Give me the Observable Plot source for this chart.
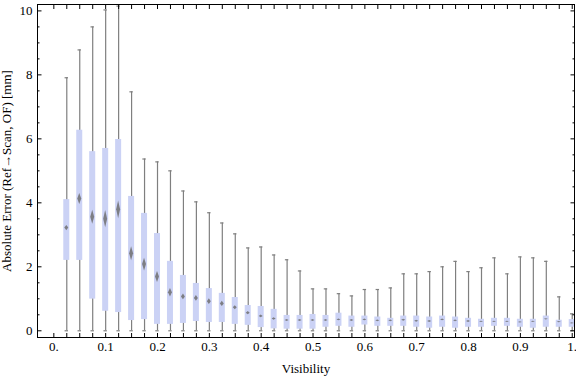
<!DOCTYPE html>
<html><head><meta charset="utf-8">
<script src="https://cdn.jsdelivr.net/npm/d3@7"></script>
<script src="https://cdn.jsdelivr.net/npm/@observablehq/plot@0.6"></script>
<style>body{margin:0;background:#fff} svg{display:block}</style>
</head><body><div id="chart"></div>
<script>
const visibility = [0.025,0.05,0.075,0.1,0.125,0.15,0.175,0.2,0.225,0.25,0.275,0.3,0.325,0.35,0.375,0.4,0.425,0.45,0.475,0.5,0.525,0.55,0.575,0.6,0.625,0.65,0.675,0.7,0.725,0.75,0.775,0.8,0.825,0.85,0.875,0.9,0.925,0.95,0.975,1.0];
const upper = [7.91,8.78,9.50,10.03,10.15,7.47,5.37,5.28,5.00,4.37,4.03,3.69,3.37,3.03,2.59,2.62,2.37,2.22,1.87,1.31,1.31,1.16,1.09,1.29,1.29,1.34,1.78,1.78,1.85,2.00,2.17,1.85,1.97,2.28,1.78,2.31,2.28,2.17,1.06,0.53];
const q3 = [4.10,6.27,5.60,5.70,5.98,4.20,3.67,3.04,2.17,1.73,1.48,1.32,1.17,1.04,0.79,0.76,0.67,0.48,0.48,0.51,0.48,0.55,0.46,0.46,0.43,0.39,0.46,0.46,0.43,0.46,0.43,0.39,0.36,0.39,0.39,0.36,0.36,0.46,0.33,0.35];
const q1 = [2.20,2.20,0.99,0.61,0.57,0.32,0.35,0.20,0.20,0.23,0.29,0.26,0.26,0.20,0.17,0.10,0.06,0.05,0.05,0.05,0.11,0.14,0.11,0.18,0.14,0.14,0.14,0.11,0.08,0.11,0.08,0.11,0.11,0.14,0.14,0.11,0.08,0.11,0.11,0.11];
const lower = [0,0,0,0,0,0,0,0,0,0,0,0,0,0,0,0,0,0,0,0,0,0,0,0,0,0,0,0,0,0,0,0,0,0,0,0,0,0,0,0];
const mean = [3.21,4.12,3.55,3.49,3.78,2.41,2.07,1.68,1.19,1.06,1.01,0.91,0.84,0.72,0.55,0.45,0.37,0.32,0.32,0.32,0.32,0.34,0.32,0.34,0.31,0.31,0.33,0.30,0.29,0.34,0.31,0.29,0.28,0.28,0.28,0.26,0.28,0.36,0.27,0.23];
const meanCI = [0.08,0.17,0.22,0.27,0.28,0.22,0.20,0.17,0.13,0.09,0.09,0.09,0.08,0.06,0.05,0.04,0.04,0.03,0.03,0.03,0.03,0.03,0.03,0.03,0.03,0.03,0.03,0.03,0.03,0.03,0.03,0.03,0.02,0.02,0.02,0.02,0.02,0.02,0.02,0.02];

const xMinorTicks = [0,0.025,0.05,0.075,0.1,0.125,0.15,0.175,0.2,0.225,0.25,0.275,0.3,0.325,0.35,0.375,0.4,0.425,0.45,0.475,0.5,0.525,0.55,0.575,0.6,0.625,0.65,0.675,0.7,0.725,0.75,0.775,0.8,0.825,0.85,0.875,0.9,0.925,0.95,0.975,1.0];
const xTickValues = [0,0.1,0.2,0.3,0.4,0.5,0.6,0.7,0.8,0.9,1.0];
const xTickLabels = ["0.","0.1","0.2","0.3","0.4","0.5","0.6","0.7","0.8","0.9","1."];
const yTickValues = [0,2,4,6,8,10];
const yTickLabels = ["0","2","4","6","8","10"];
const yMinorTicks = [0.5,1,1.5,2.5,3,3.5,4.5,5,5.5,6.5,7,7.5,8.5,9,9.5];

const boxes = visibility.map((v, i) => ({v, lo: lower[i], q1: q1[i], q3: q3[i], hi: upper[i], m: mean[i], ci: meanCI[i]}));
const boxHalf = 0.0058, capHalf = 0.0033, diaHalf = 0.0038;
const diamonds = boxes.flatMap(d => [
  {v: d.v, x: d.v - diaHalf, y1: d.m, y2: d.m},
  {v: d.v, x: d.v, y1: d.m - d.ci, y2: d.m + d.ci},
  {v: d.v, x: d.v + diaHalf, y1: d.m, y2: d.m}
]);
const grey = "#7f7f7f";
const font = "Liberation Serif, Times New Roman, serif";

const chart = Plot.plot({
  width: 576, height: 377,
  marginLeft: 37, marginRight: 2, marginTop: 4, marginBottom: 40,
  style: {fontFamily: font, fontSize: "13px", color: "black", background: "white"},
  x: {domain: [-0.0315, 1.0044]},
  y: {domain: [-0.21, 10.2]},
  marks: [
    Plot.ruleX(boxes, {x: "v", y1: "lo", y2: "hi", stroke: grey, strokeWidth: 1.2}),
    Plot.ruleY(boxes, {y: "hi", x1: d => d.v - capHalf, x2: d => d.v + capHalf, stroke: grey, strokeWidth: 1.2, clip: true}),
    Plot.ruleY(boxes, {y: "lo", x1: d => d.v - capHalf, x2: d => d.v + capHalf, stroke: grey, strokeWidth: 1.2, clip: true}),
    Plot.rect(boxes, {x1: d => d.v - boxHalf, x2: d => d.v + boxHalf, y1: "q1", y2: "q3", fill: "#cbd2f5", clip: true}),
    Plot.areaY(diamonds, {x: "x", y1: "y1", y2: "y2", z: "v", fill: "#707070", fillOpacity: 0.85}),
    // inward ticks
    Plot.axisX(xMinorTicks, {anchor: "bottom", tickSize: -4, fill: "none", label: null}),
    Plot.axisX(xMinorTicks, {anchor: "top", tickSize: -4, fill: "none", label: null}),
    Plot.axisY(yTickValues, {anchor: "left", tickSize: -4.5, fill: "none", label: null}),
    Plot.axisY(yMinorTicks, {anchor: "left", tickSize: -2.5, fill: "none", label: null}),
    Plot.axisY(yTickValues, {anchor: "right", tickSize: -4.5, fill: "none", label: null}),
    Plot.axisY(yMinorTicks, {anchor: "right", tickSize: -2.5, fill: "none", label: null}),
    // labels
    Plot.axisX(xTickValues, {anchor: "bottom", tickSize: 0, tickPadding: 4, tickFormat: d => xTickLabels[xTickValues.indexOf(d)], label: "Visibility", labelAnchor: "center", labelArrow: "none", labelOffset: 35, fontSize: 13}),
    Plot.axisY(yTickValues, {anchor: "left", tickSize: 0, tickPadding: 5, tickFormat: d => yTickLabels[yTickValues.indexOf(d)], label: "Absolute Error (Ref\u2192Scan, OF) [mm]", labelAnchor: "center", labelArrow: "none", labelOffset: 36, fontSize: 13}),
    Plot.frame({stroke: "black"})
  ]
});
document.getElementById("chart").appendChild(chart);
</script>
</body></html>
